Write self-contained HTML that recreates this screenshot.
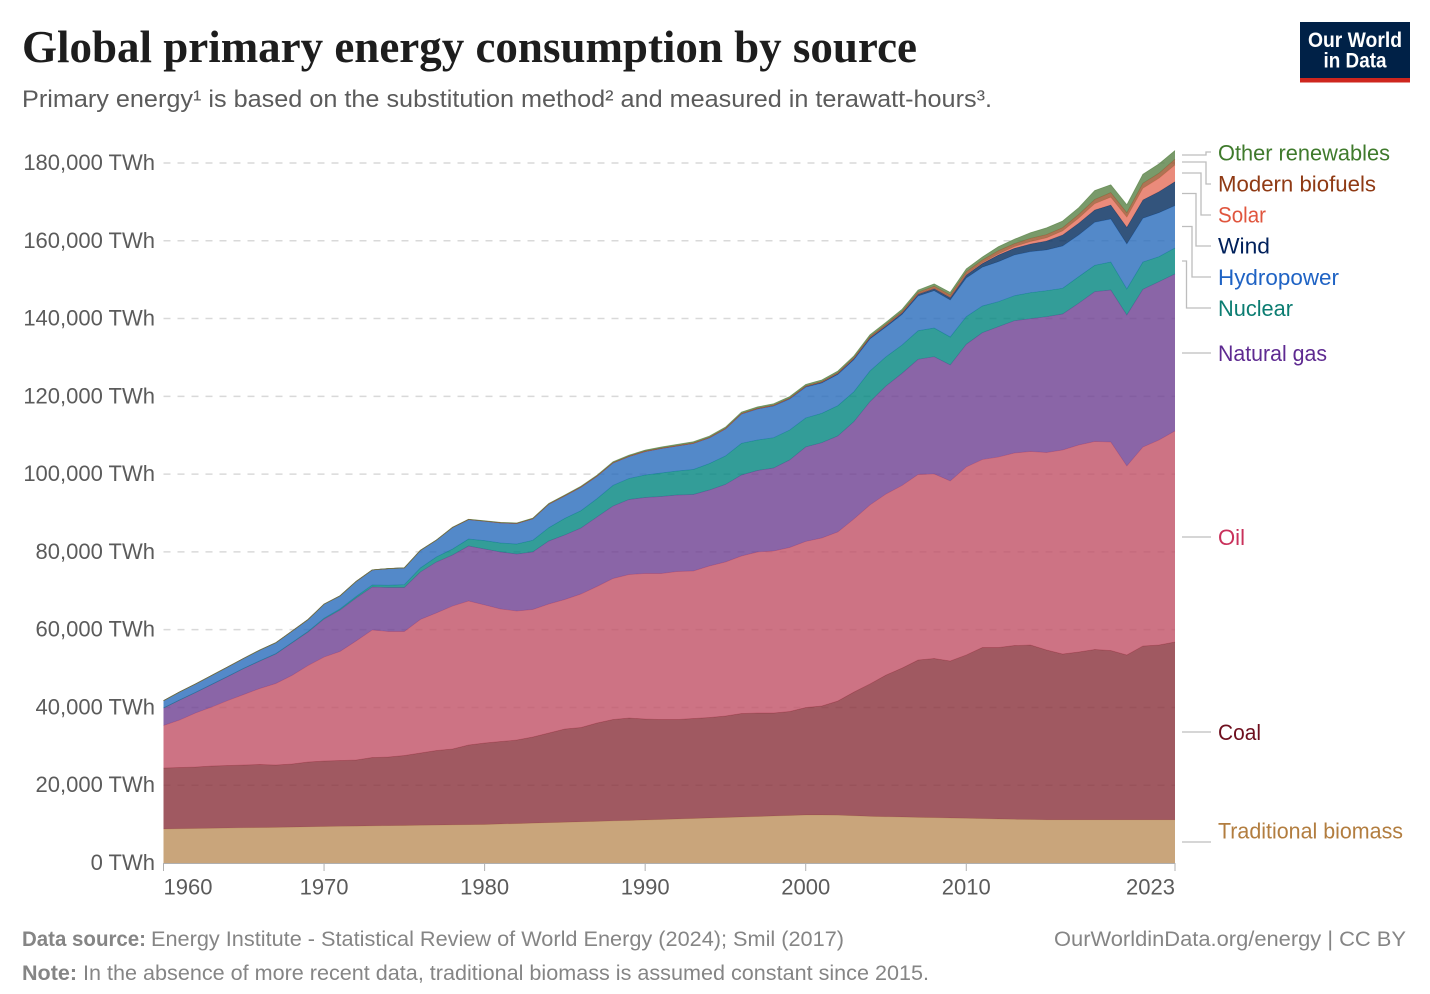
<!DOCTYPE html>
<html lang="en">
<head>
<meta charset="utf-8">
<title>Global primary energy consumption by source</title>
<style>
html,body{margin:0;padding:0;background:#fff;width:1430px;height:994px;overflow:hidden}
svg{display:block}
text{font-family:"Liberation Sans",sans-serif}
.title{font-family:"Liberation Serif",serif;font-weight:700;font-size:46px;fill:#1d1d1d}
.sub{font-size:24px;fill:#5b5b5b}
.tick{font-size:22px;fill:#5b5b5b}
.leg{font-size:22px}
.foot{font-size:21.5px;fill:#858585}
.conn{fill:none;stroke:#bdbdbd;stroke-width:1.3}
</style>
</head>
<body>
<svg id="chart" xmlns="http://www.w3.org/2000/svg" width="1430" height="994" viewBox="0 0 1430 994">
  <text class="title" x="22" y="62" textLength="895" lengthAdjust="spacingAndGlyphs">Global primary energy consumption by source</text>
  <text class="sub" x="22" y="107" textLength="970" lengthAdjust="spacingAndGlyphs">Primary energy¹ is based on the substitution method² and measured in terawatt-hours³.</text>

  <g>
    <rect x="1300" y="22" width="110" height="60.5" fill="#002147"/>
    <rect x="1300" y="78" width="110" height="4.5" fill="#ce261e"/>
    <text x="1355" y="47" text-anchor="middle" font-size="21" font-weight="700" fill="#fff" textLength="94" lengthAdjust="spacingAndGlyphs">Our World</text>
    <text x="1355" y="67.5" text-anchor="middle" font-size="21" font-weight="700" fill="#fff" textLength="63" lengthAdjust="spacingAndGlyphs">in Data</text>
  </g>

  <g id="grid"></g>
  <g id="areas"></g>
  <g id="yticks"></g>
  <g id="xaxis"></g>

  <g>
    <path class="conn" d="M1182 155H1206V152H1211"/>
    <path class="conn" d="M1182 162H1206V184H1211"/>
    <path class="conn" d="M1182 173H1201V215H1211"/>
    <path class="conn" d="M1182 193.5H1196V246H1211"/>
    <path class="conn" d="M1182 226.5H1192V277H1211"/>
    <path class="conn" d="M1182 261H1186.5V308H1211"/>
    <path class="conn" d="M1182 353H1211"/>
    <path class="conn" d="M1182 537H1211"/>
    <path class="conn" d="M1182 732H1211"/>
    <path class="conn" d="M1182 842H1211"/>
    <text class="leg" x="1218" y="160.500" fill="#3f7a2c" textLength="172" lengthAdjust="spacingAndGlyphs">Other renewables</text>
    <text class="leg" x="1218" y="191.500" fill="#8f3a14" textLength="158" lengthAdjust="spacingAndGlyphs">Modern biofuels</text>
    <text class="leg" x="1218" y="222.500" fill="#e0553d" textLength="48" lengthAdjust="spacingAndGlyphs">Solar</text>
    <text class="leg" x="1218" y="253.500" fill="#00205b" textLength="52" lengthAdjust="spacingAndGlyphs">Wind</text>
    <text class="leg" x="1218" y="285" fill="#1f63c4" textLength="121" lengthAdjust="spacingAndGlyphs">Hydropower</text>
    <text class="leg" x="1218" y="316" fill="#0c7d72" textLength="75" lengthAdjust="spacingAndGlyphs">Nuclear</text>
    <text class="leg" x="1218" y="361" fill="#5e2a91" textLength="109" lengthAdjust="spacingAndGlyphs">Natural gas</text>
    <text class="leg" x="1218" y="545" fill="#c9315b" textLength="27" lengthAdjust="spacingAndGlyphs">Oil</text>
    <text class="leg" x="1218" y="740" fill="#6e0f1e" textLength="43" lengthAdjust="spacingAndGlyphs">Coal</text>
    <text class="leg" x="1218" y="838.500" fill="#b27d3f" textLength="185" lengthAdjust="spacingAndGlyphs">Traditional biomass</text>
  </g>

  <g>
    <text class="foot" x="22" y="946" font-weight="700" textLength="124" lengthAdjust="spacingAndGlyphs">Data source:</text>
    <text class="foot" x="151" y="946" textLength="693" lengthAdjust="spacingAndGlyphs">Energy Institute - Statistical Review of World Energy (2024); Smil (2017)</text>
    <text class="foot" x="1054" y="946" textLength="352" lengthAdjust="spacingAndGlyphs">OurWorldinData.org/energy | CC BY</text>
    <text class="foot" x="22" y="980" font-weight="700" textLength="55" lengthAdjust="spacingAndGlyphs">Note:</text>
    <text class="foot" x="83" y="980" textLength="846" lengthAdjust="spacingAndGlyphs">In the absence of more recent data, traditional biomass is assumed constant since 2015.</text>
  </g>
</svg>

<script>
var firstYear = 1960;
var lastYear = 2023;
var yTickValues = [0, 20000, 40000, 60000, 80000, 100000, 120000, 140000, 160000, 180000];
var yTickLabels = ["0 TWh", "20,000 TWh", "40,000 TWh", "60,000 TWh", "80,000 TWh", "100,000 TWh", "120,000 TWh", "140,000 TWh", "160,000 TWh", "180,000 TWh"];
var xTickYears = [1960, 1970, 1980, 1990, 2000, 2010, 2023];

var traditionalBiomass = [8740,8800,8860,8930,8990,9050,9110,9170,9230,9300,
9390,9440,9490,9540,9590,9650,9700,9750,9800,9850,
9900,10020,10130,10250,10360,10480,10590,10710,10820,10940,
11050,11180,11310,11440,11570,11700,11820,11950,12080,12210,
12340,12340,12300,12150,12000,11900,11820,11740,11660,11580,
11500,11400,11320,11240,11170,11100,11100,11100,11100,11100,
11100,11100,11100,11100];
var coal = [15690,15760,15830,16010,16080,16150,16220,16030,16230,16670,
16840,16920,17000,17590,17670,17990,18590,19180,19510,20490,
20960,21220,21500,22150,23070,23980,24250,25290,26080,26350,
25980,25720,25590,25720,25840,26100,26620,26620,26490,26750,
27650,28030,29360,31820,34030,36440,38320,40460,40930,40360,
41990,44010,44090,44690,44890,43670,42640,43160,43800,43540,
42390,44700,44960,45730];
var oil = [10930,12210,13890,15170,16710,18130,19540,20960,22760,24810,
26740,28030,30600,32790,32270,31890,34330,35360,36770,37030,
35490,34070,33170,32790,33170,33300,34330,35100,36260,36900,
37410,37540,38060,37930,38960,39600,40500,41400,41660,42170,
42690,43200,43460,44490,46030,46540,46930,47700,47440,46290,
48340,48340,48980,49500,49760,50790,52460,53230,53490,53610,
48600,51170,52710,54260];
var naturalGas = [4500,5140,5270,5790,6170,6690,7070,7590,8360,8610,
9770,10670,11060,11060,11310,11310,12210,13110,13110,14140,
14400,14660,14660,14790,16200,16590,16970,17870,18640,19290,
19540,19800,19670,19670,19540,19930,20830,20960,21340,22500,
24300,24510,24690,25020,26560,27770,28850,29620,30160,29830,
31550,32610,33510,34020,34150,34920,34970,36440,38520,39090,
38830,40550,40710,40370];
var nuclear = [20,25,30,40,50,60,80,100,120,170,
230,300,400,520,580,750,1050,1300,1550,1800,
2140,2310,2570,3000,3430,4290,4460,4710,5310,5400,
5790,6040,6170,6430,6810,7330,8150,7840,7790,7710,
7460,7560,7790,7710,7890,7530,7280,7350,7380,7200,
7100,6870,6430,6430,6690,6690,6610,6840,6790,7200,
6690,7020,6430,6690];
var hydropower = [1850,2040,2170,2290,2420,2550,2750,2800,2900,3040,
3600,3350,3860,3860,4270,4290,4500,4320,5530,5010,
5010,5190,5270,5530,6040,5780,6040,5780,5780,5660,
6040,6300,6430,6690,6600,6940,7530,7970,8150,7970,
7920,7790,8020,8230,8230,7640,7840,8920,9590,9510,
9950,9970,10290,10470,10540,10470,10880,10720,11060,11060,
11570,11240,11310,10880];
var wind = [0,0,0,0,0,0,0,0,0,0,
0,0,0,0,0,0,0,0,0,0,
0,0,0,0,0,0,0,0,0,0,
10,15,20,30,40,50,60,80,110,140,
180,230,280,320,360,400,450,500,560,650,
800,950,1720,1720,1980,2310,2830,3010,3160,3600,
4290,4710,5400,6170];
var solar = [0,0,0,0,0,0,0,0,0,0,
0,0,0,0,0,0,0,0,0,0,
0,0,0,0,0,0,0,0,0,0,
0,0,0,0,0,0,0,0,0,0,
5,5,5,10,10,10,20,30,40,60,
90,170,270,420,600,800,1030,1300,1600,2000,
2570,3000,3450,4290];
var modernBiofuels = [0,0,0,0,0,0,0,0,0,0,
0,0,0,0,0,5,10,15,20,30,
50,60,70,80,90,100,100,110,110,120,
120,120,130,130,130,140,140,150,150,150,
150,170,190,220,250,300,350,450,550,600,
720,720,850,780,850,850,850,950,1100,1200,
1180,1300,1300,1500];
var otherRenewables = [20,20,20,20,20,20,25,25,30,30,
30,35,35,40,40,45,45,50,50,55,
60,70,80,90,110,130,150,170,190,220,
250,260,270,280,290,300,310,320,330,350,
370,390,410,440,470,500,530,550,600,650,
730,780,1030,1130,1440,1720,1700,1750,2310,2000,
2050,2310,2390,2210];

var seriesNames = ["traditional-biomass", "coal", "oil", "natural-gas", "nuclear", "hydropower", "wind", "solar", "modern-biofuels", "other-renewables"];
var seriesValues = [traditionalBiomass, coal, oil, naturalGas, nuclear, hydropower, wind, solar, modernBiofuels, otherRenewables];
var seriesColors = ["#BC8E5A", "#883039", "#C15065", "#6D3E91", "#00847E", "#286BBB", "#00295B", "#E56E5A", "#9A5129", "#578145"];

var NS = "http://www.w3.org/2000/svg";
var plotLeft = 163.5, plotRight = 1175, plotBottom = 863, plotTop = 163, yMax = 180000;
function xScale(year) { return plotLeft + (year - firstYear) * (plotRight - plotLeft) / (lastYear - firstYear); }
function yScale(v) { return plotBottom - v * (plotBottom - plotTop) / yMax; }
function make(tag, parent) { var el = document.createElementNS(NS, tag); parent.appendChild(el); return el; }

var gridGroup = document.getElementById("grid");
var yGroup = document.getElementById("yticks");
yTickValues.forEach(function (v, i) {
  if (v > 0) {
    var line = make("line", gridGroup);
    
    
    line.setAttribute("x1", plotLeft);
    line.setAttribute("x2", plotRight);
    line.setAttribute("y1", yScale(v));
    line.setAttribute("y2", yScale(v));
    line.setAttribute("stroke", "#d9d9d9");
    line.setAttribute("stroke-width", "1.5");
    line.setAttribute("stroke-dasharray", "7,7");
  }
  var label = make("text", yGroup);
  
  
  label.setAttribute("class", "tick");
  label.setAttribute("x", 155);
  label.setAttribute("y", yScale(v) + 7);
  label.setAttribute("text-anchor", "end");
  label.textContent = yTickLabels[i];
});

var areaGroup = document.getElementById("areas");
var baseline = seriesValues[0].map(function () { return 0; });
seriesValues.forEach(function (values, s) {
  var tops = values.map(function (v, i) { return baseline[i] + v; });
  var upper = tops.map(function (v, i) { return xScale(firstYear + i).toFixed(2) + " " + yScale(v).toFixed(2); });
  var lower = baseline.map(function (v, i) { return xScale(firstYear + i).toFixed(2) + " " + yScale(v).toFixed(2); }).reverse();
  var area = make("path", areaGroup);
  
  
  area.setAttribute("d", "M" + upper.join("L") + "L" + lower.join("L") + "Z");
  area.setAttribute("fill", seriesColors[s]);
  area.setAttribute("fill-opacity", "0.8");
  var edge = make("path", areaGroup);
  
  
  edge.setAttribute("d", "M" + upper.join("L"));
  edge.setAttribute("fill", "none");
  edge.setAttribute("stroke", seriesColors[s]);
  edge.setAttribute("stroke-width", "0.7");
  edge.setAttribute("stroke-opacity", "0.7");
  baseline = tops;
});

var xGroup = document.getElementById("xaxis");
var axisLine = make("line", xGroup);


axisLine.setAttribute("x1", plotLeft);
axisLine.setAttribute("x2", plotRight);
axisLine.setAttribute("y1", plotBottom + 0.5);
axisLine.setAttribute("y2", plotBottom + 0.5);
axisLine.setAttribute("stroke", "#b0b0b0");
axisLine.setAttribute("stroke-width", "1");
xTickYears.forEach(function (year, i) {
  var tick = make("line", xGroup);
  
  
  tick.setAttribute("x1", xScale(year));
  tick.setAttribute("x2", xScale(year));
  tick.setAttribute("y1", plotBottom);
  tick.setAttribute("y2", plotBottom + 8);
  tick.setAttribute("stroke", "#b0b0b0");
  tick.setAttribute("stroke-width", "1");
  var label = make("text", xGroup);
  
  
  label.setAttribute("class", "tick");
  label.setAttribute("y", 894.5);
  label.setAttribute("x", xScale(year));
  label.setAttribute("text-anchor", i === 0 ? "start" : (i === xTickYears.length - 1 ? "end" : "middle"));
  label.textContent = String(year);
});
</script>
</body>
</html>
